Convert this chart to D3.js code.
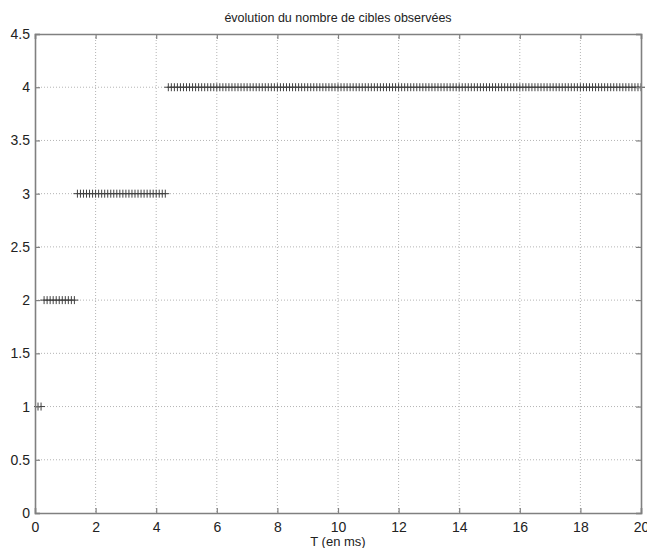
<!DOCTYPE html>
<html>
<head>
<meta charset="utf-8">
<script src="https://cdn.jsdelivr.net/npm/d3@7"></script>
<style>
  body { margin: 0; background: #fff; }
  svg { display: block; }
  text { font-family: "Liberation Sans", Arial, sans-serif; fill: #222; }
</style>
</head>
<body>
<svg id="chart" width="647" height="548"></svg>
<script>
// Number of observed targets over time (sampled every 0.1 ms)
const segmentStarts = [0.1, 0.3, 1.4, 4.4];
const segmentEnds   = [0.2, 1.3, 4.3, 20.0];
const segmentCounts = [1, 2, 3, 4];
const xTicks = [0, 2, 4, 6, 8, 10, 12, 14, 16, 18, 20];
const yTicks = [0, 0.5, 1, 1.5, 2, 2.5, 3, 3.5, 4, 4.5];
const step = 0.1;

const samples = [];
segmentStarts.forEach((s, i) => {
  const n = Math.round((segmentEnds[i] - s) / step);
  for (let k = 0; k <= n; k++) {
    samples.push({ t: +(s + k * step).toFixed(2), n: segmentCounts[i] });
  }
});

const svg = d3.select("#chart");
const margin = { left: 35, top: 34, right: 6, bottom: 35 };
const W = 647, H = 548;
const x = d3.scaleLinear().domain([0, 20]).range([margin.left, W - margin.right]);
const y = d3.scaleLinear().domain([0, 4.5]).range([H - margin.bottom, margin.top]);

const x0 = x.range()[0], x1 = x.range()[1];
const y0 = y.range()[0], y1 = y.range()[1];

// dotted grid
const grid = svg.append("g").attr("stroke", "#b4b4b4").attr("stroke-width", 1)
  .attr("stroke-dasharray", "1,2");
grid.selectAll(".gx").data(xTicks.slice(1, -1)).join("line").attr("class", "gx")
  .attr("x1", d => x(d)).attr("x2", d => x(d)).attr("y1", y1).attr("y2", y0);
grid.selectAll(".gy").data(yTicks.slice(1, -1)).join("line").attr("class", "gy")
  .attr("y1", d => y(d)).attr("y2", d => y(d)).attr("x1", x0).attr("x2", x1);

// '+' markers
const ms = 4;
const marks = svg.append("g").attr("stroke", "#404040").attr("stroke-width", 1);
marks.selectAll("path").data(samples).join("path")
  .attr("d", d => {
    const cx = x(d.t), cy = y(d.n);
    return `M${cx - ms},${cy}H${cx + ms}M${cx},${cy - ms}V${cy + ms}`;
  });

// axes with inward ticks, box on all sides
const tickLen = 5;
const axBottom = svg.append("g").attr("transform", `translate(0,${y0})`)
  .call(d3.axisBottom(x).tickValues(xTicks).tickSize(-tickLen).tickPadding(9).tickFormat(d3.format("d")));
const axTop = svg.append("g").attr("transform", `translate(0,${y1})`)
  .call(d3.axisTop(x).tickValues(xTicks).tickSize(-tickLen).tickFormat(""));
const axLeft = svg.append("g").attr("transform", `translate(${x0},0)`)
  .call(d3.axisLeft(y).tickValues(yTicks).tickSize(-tickLen).tickPadding(5).tickFormat(d3.format("")));
const axRight = svg.append("g").attr("transform", `translate(${x1},0)`)
  .call(d3.axisRight(y).tickValues(yTicks).tickSize(-tickLen).tickFormat(""));

[axBottom, axTop, axLeft, axRight].forEach(g => {
  g.select(".domain").attr("stroke", "#808080").attr("stroke-width", 1.6);
  g.selectAll(".tick line").attr("stroke", "#808080").attr("stroke-width", 1.2);
  g.selectAll(".tick text").attr("font-size", 14).attr("fill", "#222")
    .attr("font-family", "'Liberation Sans', Arial, sans-serif");
});

// title and x label
svg.append("text").attr("x", (x0 + x1) / 2).attr("y", 22)
  .attr("text-anchor", "middle").attr("font-size", 12.5)
  .text("évolution du nombre de cibles observées");
svg.append("text").attr("x", (x0 + x1) / 2).attr("y", 546)
  .attr("text-anchor", "middle").attr("font-size", 13)
  .text("T (en ms)");
</script>
</body>
</html>
